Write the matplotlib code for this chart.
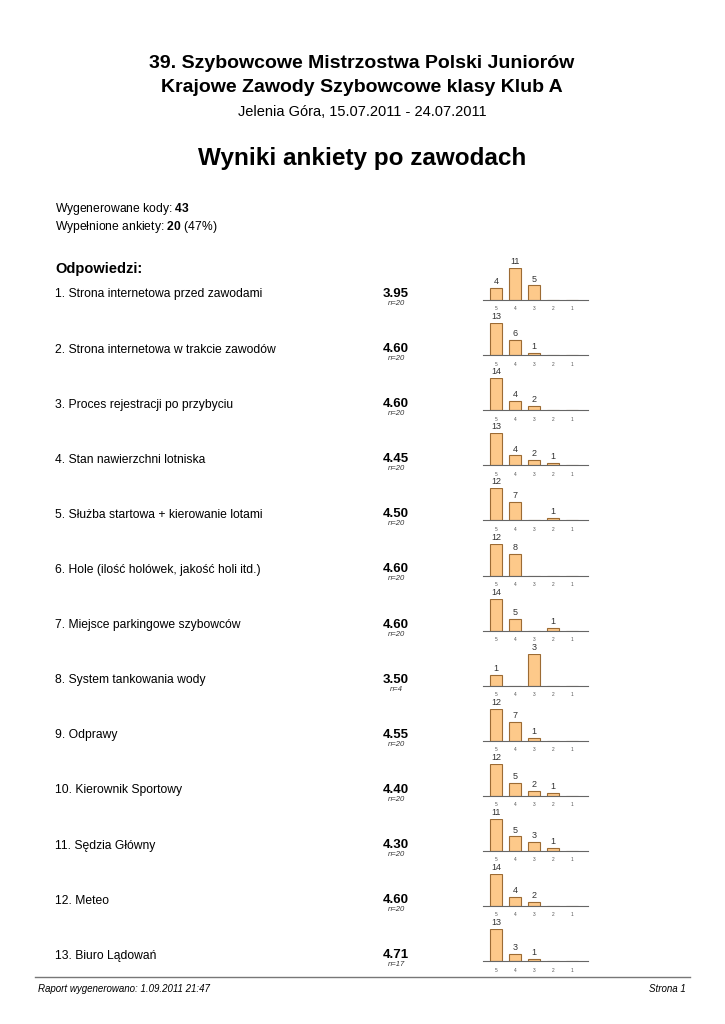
import matplotlib
matplotlib.use('Agg')
import matplotlib.pyplot as plt

# %% Data
questions = ['1. Strona internetowa przed zawodami',
             '2. Strona internetowa w trakcie zawodów',
             '3. Proces rejestracji po przybyciu',
             '4. Stan nawierzchni lotniska',
             '5. Służba startowa + kierowanie lotami',
             '6. Hole (ilość holówek, jakość holi itd.)',
             '7. Miejsce parkingowe szybowców',
             '8. System tankowania wody',
             '9. Odprawy',
             '10. Kierownik Sportowy',
             '11. Sędzia Główny',
             '12. Meteo',
             '13. Biuro Lądowań']
scores = ['3.95', '4.60', '4.60', '4.45', '4.50', '4.60', '4.60',
          '3.50', '4.55', '4.40', '4.30', '4.60', '4.71']
n_answers = [20, 20, 20, 20, 20, 20, 20, 4, 20, 20, 20, 20, 17]
grades = [5, 4, 3, 2, 1]
# counts for grades 5, 4, 3, 2, 1
counts = [[4, 11, 5, 0, 0],
          [13, 6, 1, 0, 0],
          [14, 4, 2, 0, 0],
          [13, 4, 2, 1, 0],
          [12, 7, 0, 1, 0],
          [12, 8, 0, 0, 0],
          [14, 5, 0, 1, 0],
          [1, 0, 3, 0, 0],
          [12, 7, 1, 0, 0],
          [12, 5, 2, 1, 0],
          [11, 5, 3, 1, 0],
          [14, 4, 2, 0, 0],
          [13, 3, 1, 0, 0]]

# %% Figure
W, H = 725, 1024
plt.rcParams['font.family'] = ['Liberation Sans', 'DejaVu Sans']
plt.rcParams['mathtext.fontset'] = 'custom'
plt.rcParams['mathtext.rm'] = 'Liberation Sans'
plt.rcParams['mathtext.bf'] = 'Liberation Sans:bold'
fig = plt.figure(figsize=(W / 100, H / 100), dpi=100)


def put(x, y, s, **kw):
    # pixel coords -> figure coords
    fig.text(x / W, 1 - y / H, s, **kw)


put(362, 64, '39. Szybowcowe Mistrzostwa Polski Juniorów', fontsize=14,
    fontweight='bold', ha='center', va='center')
put(362, 88, 'Krajowe Zawody Szybowcowe klasy Klub A', fontsize=14,
    fontweight='bold', ha='center', va='center')
put(362, 112, 'Jelenia Góra, 15.07.2011 - 24.07.2011', fontsize=10.5,
    ha='center', va='center')
put(362, 158, 'Wyniki ankiety po zawodach', fontsize=17.5,
    fontweight='bold', ha='center', va='center')

put(55, 209, 'Wygenerowane kody: $\\mathbf{43}$', fontsize=8.7, va='center')
put(55, 227, 'Wypełnione ankiety: $\\mathbf{20}$ (47%)', fontsize=8.7, va='center')
put(55, 269, 'Odpowiedzi:', fontsize=10.5, fontweight='bold', va='center')

bar_fill = '#fdc98a'
bar_edge = '#9c6b34'

for i, q in enumerate(questions):
    ty = 293 + i * 55.1
    put(55, ty + 1.5, q, fontsize=8.7, va='center')
    put(396, ty + 1, scores[i], fontsize=9.5, fontweight='bold', ha='center', va='center')
    put(396, ty + 10.5, 'n=%d' % n_answers[i], fontsize=5.5, style='italic',
        ha='center', va='center', color='#333333')

    base = ty + 7
    ax = fig.add_axes([483 / W, 1 - base / H, 105 / W, 32 / H])
    xs = list(range(len(grades)))
    c = counts[i]
    ax.bar(xs, c, width=0.68, color=bar_fill, edgecolor=bar_edge, linewidth=0.8)
    ax.set_xlim(-0.684, 4.84)
    ax.set_ylim(0, max(c))
    for x, v in zip(xs, c):
        if v > 0:
            ax.text(x, v + max(c) * 0.06, str(v), ha='center', va='bottom',
                    fontsize=6.5, color='#333333', clip_on=False)
        ax.text(x, -max(c) * 0.2, str(grades[x]), ha='center', va='top',
                fontsize=3.5, color='#555555', clip_on=False)
    for s in ['top', 'left', 'right']:
        ax.spines[s].set_visible(False)
    ax.spines['bottom'].set_color('#666666')
    ax.spines['bottom'].set_linewidth(0.8)
    ax.set_xticks([])
    ax.set_yticks([])
    ax.patch.set_alpha(0)

# footer
fig.add_artist(plt.Line2D([35 / W, 690 / W], [1 - 977 / H, 1 - 977 / H],
                          color='#777777', linewidth=1))
put(38, 989, 'Raport wygenerowano: 1.09.2011 21:47', fontsize=7, style='italic',
    va='center')
put(686, 989, 'Strona 1', fontsize=7, style='italic', ha='right', va='center')

fig.savefig('out.png', dpi=100)
